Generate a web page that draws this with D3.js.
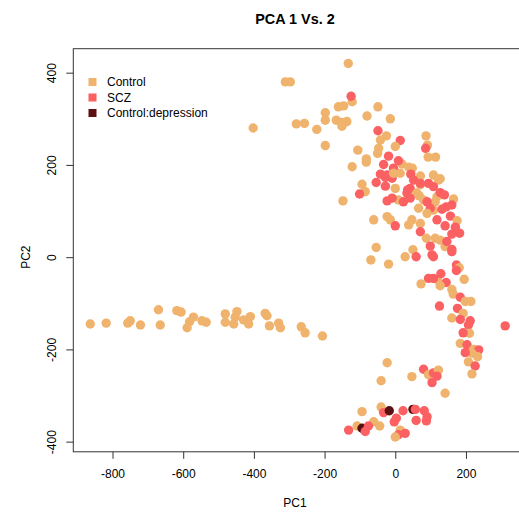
<!DOCTYPE html>
<html>
<head>
<meta charset="utf-8">
<script src="https://cdn.jsdelivr.net/npm/d3@7"></script>
<style>
  html, body { margin: 0; padding: 0; background: #fff; }
  svg { display: block; font-family: "Liberation Sans", Arial, Helvetica, sans-serif; }
</style>
</head>
<body>
<svg id="chart" width="519" height="513"></svg>
<script>
// Sample groups (legend order) and their colours
const categories = ["Control", "SCZ", "Control:depression"];
const colors = ["#EFB36D", "#FB6062", "#5A1010"];

// Principal component scores, one entry per sample, in plotting order
const pc1 = [
  -863, -818, -757, -750, -721, -670, -665, -618, -606, -589, -582, -571, -547, -535, -481,
  -481, -457, -448, -453, -429, -410, -415, -368, -363, -356, -330, -325, -266, -255, -206,
  -402, -311, -297, -133, -122, -146, -161, -125, -49, -198, -80, -14, -280, -257, -198,
  -167, -151, -137, -151, -222, -25, -42, 87, -49, 14, 0, 91, 86, -198, -106,
  -47, -50, -82, -82, 93, 114, -19, -122, 19, 38, 48, -33, 9, -5, -42,
  -23, -28, -9, -5, 14, 44, 71, 108, 122, 127, -54, -28, 52, 71, 42,
  94, 108, -94, -85, -101, 0, 35, 61, 68, 118, 127, 139, 71, 33, -148,
  9, -23, -9, 23, 42, 80, 113, 90, 165, 160, 144, 66, 108, 99, 132,
  90, -23, -14, -61, 47, 38, 71, 118, 156, 175, 0, 141, 170, 182, 160,
  71, 88, 113, 127, 141, 146, 160, 99, -54, 50, 28, 59, 108, -69, -19,
  104, 160, 173,
  181, 173, 195, 119, 94, 108, 129, 73, 144, 127, 160, 164, 184, 198, 214,
  125, 176, 192, 160, 184, 212, 207, 311, 210, 192, 184, 203, 222, 236, 217,
  198, 233, 207, 226, 217,
  -23, -40, 47, 80, 94, 108, 104, 122, 118, 141,
  -94, -40, -33, -17, 22, 50, 57, 82, 90, 3, -3, 59, 88, -61, -44,
  -108, -94, -76, -85, -132, 14, 28, 9, 0
];
const pc2 = [
  -145, -143, -143, -138, -147, -114, -147, -116, -119, -153, -140, -130, -138, -141, -123,
  -141, -145, -118, -130, -136, -129, -145, -122, -127, -149, -143, -153, -151, -164, -171,
  280, 380, 380, 420, 337, 328, 326, 349, 326, 313, 306, 300, 289, 290, 297,
  297, 292, 294, 284, 277, 263, 254, 263, 274, 253, 240, 243, 236, 242, 232,
  236, 225, 213, 206, 217, 217, 219, 196, 202, 195, 193, 201, 209, 193, 180,
  178, 173, 171, 182, 182, 180, 176, 178, 167, 170, 162, 154, 167, 157, 149,
  160, 153, 158, 142, 137, 149, 146, 139, 133, 131, 140, 135, 160, 139, 122,
  124, 122, 128, 120, 128, 124, 120, 120, 126, 113, 109, 106, 102, 106, 104,
  95, 88, 81, 81, 81, 70, 73, 81, 89, 79, 68, 68, 65, 52, 50,
  55, 41, 41, 37, 23, 34, 17, 24, 21, 16, 1, 1, 1, -6, -15,
  5, 12, -17,
  -23, -29, -48, -49, -46, -46, -36, -58, -55, -62, -70, -80, -87, -96, -96,
  -106, -111, -122, -132, -135, -138, -147, -149, -165, -164, -187, -190, -200, -201, -208,
  -207, -216, -227, -236, -253,
  -229, -268, -259, -243, -255, -251, -272, -245, -258, -295,
  -335, -325, -337, -333, -333, -330, -330, -333, -346, -349, -357, -354, -355, -357, -366,
  -366, -371, -366, -378, -375, -375, -382, -385, -390
];
// Group index into categories for each sample
const groupIdx = [
  0, 0, 0, 0, 0, 0, 0, 0, 0, 0, 0, 0, 0, 0, 0,
  0, 0, 0, 0, 0, 0, 0, 0, 0, 0, 0, 0, 0, 0, 0,
  0, 0, 0, 0, 0, 0, 0, 1, 0, 0, 0, 0, 0, 0, 0,
  0, 0, 0, 0, 0, 0, 0, 0, 1, 1, 0, 0, 1, 0, 0,
  0, 0, 0, 0, 0, 0, 1, 0, 0, 0, 0, 1, 1, 1, 1,
  1, 1, 1, 0, 0, 1, 0, 0, 0, 0, 1, 1, 1, 0, 1,
  1, 1, 0, 0, 1, 0, 1, 0, 0, 0, 1, 1, 1, 1, 0,
  0, 1, 1, 1, 1, 0, 0, 1, 0, 1, 1, 0, 0, 1, 1,
  0, 0, 0, 0, 0, 0, 0, 1, 1, 0, 1, 1, 1, 1, 1,
  1, 0, 0, 0, 0, 1, 1, 1, 0, 0, 0, 1, 1, 0, 0,
  1, 1, 1,
  0, 1, 0, 0, 1, 1, 1, 0, 1, 0, 0, 0, 1, 0, 0,
  1, 1, 0, 0, 1, 1, 1, 1, 0, 1, 0, 1, 0, 1, 0,
  1, 0, 0, 1, 0,
  0, 0, 0, 1, 0, 1, 1, 0, 1, 0,
  0, 0, 1, 2, 1, 2, 1, 1, 1, 1, 1, 1, 1, 0, 0,
  0, 2, 1, 1, 1, 0, 1, 1, 0
];

const xTicks = [-800, -600, -400, -200, 0, 200];
const yTicks = [-400, -200, 0, 200, 400];

const svg = d3.select("#chart");

const x = d3.scaleLinear().domain([-911, 358]).range([73.3, 521.8]);
const y = d3.scaleLinear().domain([-422, 452]).range([451.8, 48.7]);

// Plain hyphen-minus for negative tick labels
const fmt = d => String(d);

// Plot frame
svg.append("rect")
  .attr("x", x.range()[0]).attr("y", y.range()[1])
  .attr("width", x.range()[1] - x.range()[0])
  .attr("height", y.range()[0] - y.range()[1])
  .attr("fill", "none").attr("stroke", "#333").attr("stroke-width", 1);

// Points
svg.append("g").selectAll("circle")
  .data(d3.range(pc1.length))
  .join("circle")
  .attr("cx", i => x(pc1[i]))
  .attr("cy", i => y(pc2[i]))
  .attr("r", 4.7)
  .attr("fill", i => colors[groupIdx[i]]);

// Axes
const xAxis = svg.append("g")
  .attr("transform", `translate(0,${y.range()[0]})`)
  .call(d3.axisBottom(x).tickValues(xTicks).tickSize(7).tickPadding(11).tickFormat(fmt));
const yAxis = svg.append("g")
  .attr("transform", `translate(${x.range()[0]},0)`)
  .call(d3.axisLeft(y).tickValues(yTicks).tickSize(7).tickFormat(fmt));

[xAxis, yAxis].forEach(g => {
  g.select(".domain").remove();
  g.selectAll(".tick line").attr("stroke", "#333");
  g.selectAll(".tick text")
    .attr("fill", "#000")
    .style("font-size", "12px")
    .style("font-family", "'Liberation Sans', Arial, sans-serif");
});
xAxis.selectAll(".tick text").attr("dy", "0.71em");
// Rotated y tick labels, parallel to the axis
yAxis.selectAll(".tick text")
  .attr("x", null).attr("dy", null)
  .attr("text-anchor", "middle")
  .attr("transform", "translate(-17,0) rotate(-90)");

// Title and axis labels
svg.append("text")
  .attr("x", 295).attr("y", 24)
  .attr("text-anchor", "middle")
  .style("font-size", "14.4px").style("font-weight", "bold")
  .text("PCA 1 Vs. 2");
svg.append("text")
  .attr("x", 295).attr("y", 507)
  .attr("text-anchor", "middle")
  .style("font-size", "12px")
  .text("PC1");
svg.append("text")
  .attr("transform", `translate(30,${y(0)}) rotate(-90)`)
  .attr("text-anchor", "middle")
  .style("font-size", "12px")
  .text("PC2");

// Legend
const legend = svg.append("g").attr("transform", "translate(92.5,82)");
categories.forEach((c, i) => {
  const row = legend.append("g").attr("transform", `translate(0,${i * 15.5})`);
  row.append("rect")
    .attr("x", -4).attr("y", -4).attr("width", 8).attr("height", 8)
    .attr("fill", colors[i]);
  row.append("text")
    .attr("x", 14.5).attr("y", 4.3)
    .style("font-size", "12px")
    .text(c);
});
</script>
</body>
</html>
